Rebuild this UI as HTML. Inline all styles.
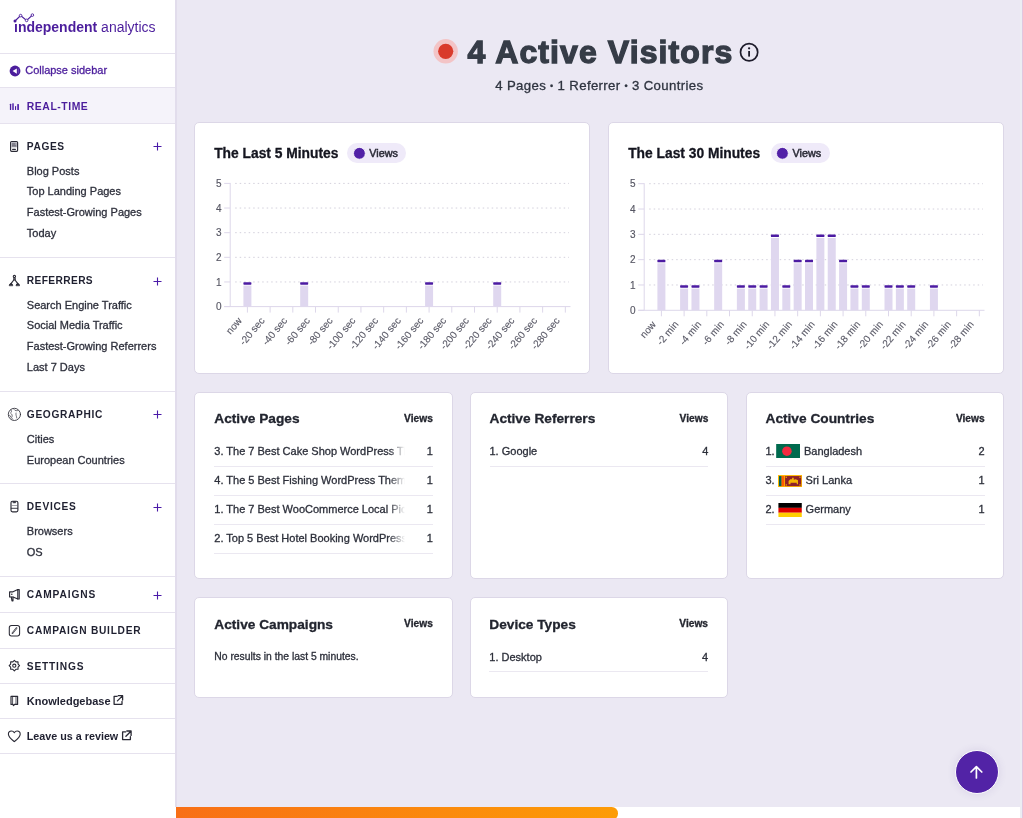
<!DOCTYPE html>
<html><head><meta charset="utf-8"><style>
html,body{margin:0;padding:0;}
body{width:1023px;height:818px;position:relative;overflow:hidden;background:#fff;font-family:"Liberation Sans", sans-serif;}
.t{position:absolute;white-space:nowrap;font-family:"Liberation Sans", sans-serif;}
.m{-webkit-text-stroke:0.3px currentColor;}
.b{-webkit-text-stroke:0.3px currentColor;}
</style></head><body><div id="w" style="position:absolute;left:0;top:0;width:1023px;height:818px;will-change:transform">
<div style="position:absolute;left:0px;top:0px;width:175px;height:818px;background:#fff;"></div>
<div style="position:absolute;left:175px;top:0px;width:2px;height:806.5px;background:#e2ddec;"></div>
<div style="position:absolute;left:0px;top:53px;width:175px;height:1px;background:#e6e2ee;"></div>
<div style="position:absolute;left:0px;top:87px;width:175px;height:1px;background:#e6e2ee;"></div>
<div style="position:absolute;left:0px;top:122.5px;width:175px;height:1px;background:#e6e2ee;"></div>
<div style="position:absolute;left:0px;top:257px;width:175px;height:1px;background:#e6e2ee;"></div>
<div style="position:absolute;left:0px;top:391px;width:175px;height:1px;background:#e6e2ee;"></div>
<div style="position:absolute;left:0px;top:483px;width:175px;height:1px;background:#e6e2ee;"></div>
<div style="position:absolute;left:0px;top:575.5px;width:175px;height:1px;background:#e6e2ee;"></div>
<div style="position:absolute;left:0px;top:612px;width:175px;height:1px;background:#e6e2ee;"></div>
<div style="position:absolute;left:0px;top:647.5px;width:175px;height:1px;background:#e6e2ee;"></div>
<div style="position:absolute;left:0px;top:683px;width:175px;height:1px;background:#e6e2ee;"></div>
<div style="position:absolute;left:0px;top:718px;width:175px;height:1px;background:#e6e2ee;"></div>
<div style="position:absolute;left:0px;top:753px;width:175px;height:1px;background:#e6e2ee;"></div>
<div style="position:absolute;left:0px;top:88px;width:175px;height:34.5px;background:#f5f3fa;"></div>
<div class="t" style="left:14px;top:19.85px;font-size:14px;line-height:14px;color:#4b1d9c;white-space:nowrap"><b>&#305;ndependent</b> analytics</div>
<svg style="position:absolute;left:0;top:0" width="60" height="40"><polyline points="15,21 20.6,15.6 26.6,20.4 32.4,15.1" fill="none" stroke="#4b1d9c" stroke-width="1.15"/>
<circle cx="15" cy="21" r="1.5" fill="#4b1d9c"/><circle cx="20.6" cy="15.6" r="1.3" fill="#fff" stroke="#4b1d9c" stroke-width="0.9"/><circle cx="26.6" cy="20.4" r="1.3" fill="#fff" stroke="#4b1d9c" stroke-width="0.9"/><circle cx="32.4" cy="15.1" r="1.3" fill="#fff" stroke="#4b1d9c" stroke-width="0.9"/></svg>
<svg style="position:absolute;left:9px;top:64.5px" width="12" height="12"><circle cx="6.05" cy="6" r="5.4" fill="#4b1d9c"/><path d="M7.8 3.4 L3.6 6 L7.8 8.7 Z" fill="#fff"/><path d="M9.3 3.6 V8.4" stroke="#7a55c0" stroke-width="0.8"/></svg>
<div class="t m" style="top:64.89px;font-size:11px;line-height:11px;font-weight:400;color:#4b1d9c;left:25.20px;">Collapse sidebar</div>
<svg style="position:absolute;left:9px;top:101px" width="12" height="10"><rect x="0.9" y="2.8" width="1.3" height="6.3" rx="0.5" fill="#4b1d9c"/><rect x="3.2" y="2.2" width="1.6" height="6.9" rx="0.5" fill="#5a2db0"/><rect x="6" y="5" width="1.1" height="4.1" rx="0.5" fill="#4b1d9c"/><rect x="8.2" y="3" width="1.8" height="6.1" rx="0.5" fill="#5a2db0"/></svg>
<div class="t " style="top:101.50px;font-size:10.4px;line-height:10.4px;font-weight:700;color:#4b1d9c;letter-spacing:0.55px;left:26.80px;">REAL-TIME</div>
<div class="t " style="top:141.67px;font-size:10.2px;line-height:10.2px;font-weight:700;color:#1f2030;letter-spacing:0.6px;left:26.80px;">PAGES</div>
<svg style="position:absolute;left:153.3px;top:142.20px" width="9" height="9"><path d="M4.5 0.5 V8.5 M0.5 4.5 H8.5" stroke="#4a1aa8" stroke-width="1.1"/></svg>
<div class="t m" style="top:165.69px;font-size:11px;line-height:11px;font-weight:400;color:#2e303c;left:26.80px;">Blog Posts</div>
<div class="t m" style="top:186.49px;font-size:11px;line-height:11px;font-weight:400;color:#2e303c;left:26.80px;">Top Landing Pages</div>
<div class="t m" style="top:207.29px;font-size:11px;line-height:11px;font-weight:400;color:#2e303c;left:26.80px;">Fastest-Growing Pages</div>
<div class="t m" style="top:228.09px;font-size:11px;line-height:11px;font-weight:400;color:#2e303c;left:26.80px;">Today</div>
<div class="t " style="top:276.37px;font-size:10.2px;line-height:10.2px;font-weight:700;color:#1f2030;letter-spacing:0.38px;left:26.80px;">REFERRERS</div>
<svg style="position:absolute;left:153.3px;top:276.90px" width="9" height="9"><path d="M4.5 0.5 V8.5 M0.5 4.5 H8.5" stroke="#4a1aa8" stroke-width="1.1"/></svg>
<div class="t m" style="top:299.69px;font-size:11px;line-height:11px;font-weight:400;color:#2e303c;left:26.80px;">Search Engine Traffic</div>
<div class="t m" style="top:320.39px;font-size:11px;line-height:11px;font-weight:400;color:#2e303c;left:26.80px;">Social Media Traffic</div>
<div class="t m" style="top:341.19px;font-size:11px;line-height:11px;font-weight:400;color:#2e303c;left:26.80px;">Fastest-Growing Referrers</div>
<div class="t m" style="top:361.99px;font-size:11px;line-height:11px;font-weight:400;color:#2e303c;left:26.80px;">Last 7 Days</div>
<div class="t " style="top:409.57px;font-size:10.2px;line-height:10.2px;font-weight:700;color:#1f2030;letter-spacing:0.66px;left:26.80px;">GEOGRAPHIC</div>
<svg style="position:absolute;left:153.3px;top:410.10px" width="9" height="9"><path d="M4.5 0.5 V8.5 M0.5 4.5 H8.5" stroke="#4a1aa8" stroke-width="1.1"/></svg>
<div class="t m" style="top:433.59px;font-size:11px;line-height:11px;font-weight:400;color:#2e303c;left:26.80px;">Cities</div>
<div class="t m" style="top:454.89px;font-size:11px;line-height:11px;font-weight:400;color:#2e303c;left:26.80px;">European Countries</div>
<div class="t " style="top:502.47px;font-size:10.2px;line-height:10.2px;font-weight:700;color:#1f2030;letter-spacing:0.72px;left:26.80px;">DEVICES</div>
<svg style="position:absolute;left:153.3px;top:503.00px" width="9" height="9"><path d="M4.5 0.5 V8.5 M0.5 4.5 H8.5" stroke="#4a1aa8" stroke-width="1.1"/></svg>
<div class="t m" style="top:525.69px;font-size:11px;line-height:11px;font-weight:400;color:#2e303c;left:26.80px;">Browsers</div>
<div class="t m" style="top:546.89px;font-size:11px;line-height:11px;font-weight:400;color:#2e303c;left:26.80px;">OS</div>
<div class="t " style="top:590.17px;font-size:10.2px;line-height:10.2px;font-weight:700;color:#1f2030;letter-spacing:0.86px;left:26.80px;">CAMPAIGNS</div>
<svg style="position:absolute;left:153.3px;top:590.70px" width="9" height="9"><path d="M4.5 0.5 V8.5 M0.5 4.5 H8.5" stroke="#4a1aa8" stroke-width="1.1"/></svg>
<div class="t " style="top:626.37px;font-size:10.2px;line-height:10.2px;font-weight:700;color:#1f2030;letter-spacing:0.73px;left:26.80px;">CAMPAIGN BUILDER</div>
<div class="t " style="top:661.87px;font-size:10.2px;line-height:10.2px;font-weight:700;color:#1f2030;letter-spacing:0.82px;left:26.80px;">SETTINGS</div>
<div class="t " style="top:695.69px;font-size:11px;line-height:11px;font-weight:700;color:#1f2030;left:26.80px;">Knowledgebase</div>
<div class="t " style="top:731.30px;font-size:10.75px;line-height:10.75px;font-weight:700;color:#1f2030;left:26.80px;">Leave us a review</div>
<svg style="position:absolute;left:0;top:0" width="175" height="760" fill="none" stroke="#2a2a35" stroke-width="1.15" stroke-linecap="round" stroke-linejoin="round">
<!-- pages -->
<rect x="10.6" y="141.5" width="7" height="9.8" rx="1"/>
<rect x="11.4" y="142.3" width="5.4" height="5" fill="#9b9aa6" stroke="none"/>
<path d="M12.4 144 H14.6 M12.4 145.8 H15.8" stroke-width="0.7" stroke="#55545f"/>
<path d="M12.6 149.3 H15.4" stroke-width="1.2"/>
<!-- referrers -->
<circle cx="14.4" cy="276.5" r="1.15" stroke-width="1.1"/><circle cx="14.4" cy="279" r="0.9" stroke-width="1"/>
<path d="M13.8 280 L11.2 283.4 M15 280 L17.6 283.4" stroke-width="1.2"/>
<path d="M9.3 285.3 Q9.6 283.4 11 283.4 Q12.4 283.4 12.7 285.3 Z M16.1 285.3 Q16.4 283.4 17.8 283.4 Q19.2 283.4 19.5 285.3 Z" fill="#2a2a35" stroke-width="0.9"/>
<!-- globe -->
<circle cx="14.4" cy="414.4" r="6.1" stroke-width="1" opacity="0.85"/>
<path d="M11 409.8 C12 411 11.5 412.5 10.5 413 C11.8 414 12.8 415.5 12 417 M14 409.5 C15 411 17 411 18 410.5 M16 413 C15.5 414.5 16.5 416 16.8 418 M9.4 415 C10.5 416.5 11.5 418 12.5 419" stroke-width="0.8" opacity="0.8"/>
<!-- devices -->
<rect x="11" y="501.2" width="6.9" height="10.6" rx="1.5"/>
<path d="M13.3 501.6 H15.6 V502.8 H13.3 Z" fill="#2a2a35" stroke-width="0.6"/>
<path d="M11.3 508.3 H17.6" stroke-width="0.9"/>
<path d="M12.2 505.5 H16.8" stroke-width="0.7" opacity="0.6"/>
<!-- campaigns megaphone -->
<path d="M9.6 591.8 H13 L17.8 589.6 V599 L13 597 H9.6 Z"/>
<path d="M17.8 589.6 H19.2 V599 H17.8" />
<path d="M11.3 597 L12 600.8 H13 L13 597"/>
<circle cx="11.8" cy="594.3" r="0.8" fill="#2a2a35" stroke="none"/>
<!-- campaign builder -->
<rect x="9.3" y="625.4" width="10.3" height="10.5" rx="2.2" stroke-width="1.05"/>
<path d="M12.4 633.2 L16.6 628.1" stroke-width="1.6"/>
<path d="M12.4 633.2 L16.6 628.1" stroke="#fff" stroke-width="0.5"/>
<!-- settings gear -->
<circle cx="14.3" cy="665.7" r="1.6" stroke-width="1.1"/>
<path d="M14.35 660.40 L15.88 661.90 L18.03 661.92 L18.05 664.07 L19.55 665.60 L18.05 667.13 L18.03 669.28 L15.88 669.30 L14.35 670.80 L12.82 669.30 L10.67 669.28 L10.65 667.13 L9.15 665.60 L10.65 664.07 L10.67 661.92 L12.82 661.90 Z" stroke-width="1.1"/>
<!-- knowledgebase book -->
<path d="M11 696.3 H17.6 V704.4 H14.5 L13.6 705.6 L12.8 704.4 H11 Z"/>
<path d="M12.6 696.3 V704.3 M16 697 V704" stroke-width="0.8"/>
<!-- heart -->
<path d="M14.3 741.6 C11 739 8.4 737 8.4 734.2 C8.4 732.3 9.8 731 11.5 731 C12.7 731 13.7 731.7 14.3 732.7 C14.9 731.7 15.9 731 17.1 731 C18.8 731 20.2 732.3 20.2 734.2 C20.2 737 17.6 739 14.3 741.6 Z" stroke-width="1.1"/>
<!-- external links -->
<path d="M117 696.4 H114.1 V704.3 H122 V701.4 M118.2 695.7 H122.6 V700.1 M122.4 695.9 L117.4 700.9" stroke-width="1.3"/>
<path d="M125.6 731.9 H122.6 V739.6 H130.4 V736.7 M126.8 731 H131.1 V735.4 M130.9 731.2 L125.9 736.2" stroke-width="1.3"/>
</svg>
<div style="position:absolute;left:177px;top:0px;width:843px;height:806.5px;background:#ebe8f3;"></div>
<div style="position:absolute;left:1020px;top:0px;width:2px;height:818px;background:#ecedf3;"></div>
<div style="position:absolute;left:1022px;top:0px;width:1px;height:818px;background:#e2c5df;"></div>
<svg style="position:absolute;left:0;top:0" width="1023" height="120"><circle cx="445.7" cy="51.3" r="12.2" fill="#f3c4c6"/><circle cx="445.7" cy="51.3" r="7.6" fill="#d93a2b"/><circle cx="749.1" cy="52.3" r="8.6" fill="none" stroke="#1d1b2a" stroke-width="1.7"/><rect x="748.2" y="51" width="1.8" height="5.6" fill="#1d1b2a"/><circle cx="749.1" cy="48.3" r="1.15" fill="#1d1b2a"/></svg>
<div class="t " style="top:35.61px;font-size:32px;line-height:32px;font-weight:700;color:#363c47;letter-spacing:1.1px;left:467.50px;-webkit-text-stroke:1.3px #363c47;">4 Active Visitors</div>
<div class="t m" style="top:78.93px;font-size:13.2px;line-height:13.2px;font-weight:400;color:#2f3440;letter-spacing:0.35px;left:399.30px;width:400px;text-align:center;">4 Pages <span style="font-size:9px;position:relative;top:-1px">&bull;</span> 1 Referrer <span style="font-size:9px;position:relative;top:-1px">&bull;</span> 3 Countries</div>
<div style="position:absolute;left:193.8px;top:122.4px;width:396.5px;height:251.3px;background:#fff;border:1px solid #dcd7e7;border-radius:5px;box-sizing:border-box;"></div>
<div style="position:absolute;left:607.8px;top:122.4px;width:396.1px;height:251.3px;background:#fff;border:1px solid #dcd7e7;border-radius:5px;box-sizing:border-box;"></div>
<div style="position:absolute;left:193.8px;top:391.9px;width:259.0px;height:187.4px;background:#fff;border:1px solid #dcd7e7;border-radius:5px;box-sizing:border-box;"></div>
<div style="position:absolute;left:469.7px;top:391.9px;width:258.5px;height:187.4px;background:#fff;border:1px solid #dcd7e7;border-radius:5px;box-sizing:border-box;"></div>
<div style="position:absolute;left:745.8px;top:391.9px;width:258.2px;height:187.4px;background:#fff;border:1px solid #dcd7e7;border-radius:5px;box-sizing:border-box;"></div>
<div style="position:absolute;left:193.8px;top:596.6px;width:259.0px;height:101.3px;background:#fff;border:1px solid #dcd7e7;border-radius:5px;box-sizing:border-box;"></div>
<div style="position:absolute;left:469.6px;top:596.6px;width:258.6px;height:101.3px;background:#fff;border:1px solid #dcd7e7;border-radius:5px;box-sizing:border-box;"></div>
<div class="t b" style="top:147.22px;font-size:13.8px;line-height:13.8px;font-weight:700;color:#14151f;left:214.20px;">The Last 5 Minutes</div>
<div style="position:absolute;left:347.3px;top:142.8px;width:59px;height:20.5px;background:#efeaf9;border-radius:10.25px;"></div>
<svg style="position:absolute;left:352.8px;top:146.8px" width="13" height="13"><circle cx="6.4" cy="6.3" r="5.9" fill="#5221a7" stroke="#fff" stroke-width="0.8"/></svg>
<div class="t " style="top:147.96px;font-size:10.8px;line-height:10.8px;font-weight:400;color:#2c2c38;left:369.30px;-webkit-text-stroke:0.5px #2c2c38;">Views</div>
<div class="t b" style="top:147.22px;font-size:13.8px;line-height:13.8px;font-weight:700;color:#14151f;left:628.20px;">The Last 30 Minutes</div>
<div style="position:absolute;left:770.5px;top:142.8px;width:59px;height:20.5px;background:#efeaf9;border-radius:10.25px;"></div>
<svg style="position:absolute;left:776.0px;top:146.8px" width="13" height="13"><circle cx="6.4" cy="6.3" r="5.9" fill="#5221a7" stroke="#fff" stroke-width="0.8"/></svg>
<div class="t " style="top:147.96px;font-size:10.8px;line-height:10.8px;font-weight:400;color:#2c2c38;left:792.50px;-webkit-text-stroke:0.5px #2c2c38;">Views</div>
<svg style="position:absolute;left:0;top:0;overflow:visible" width="1023" height="400" font-family="Liberation Sans, sans-serif"><line x1="224.2" y1="183.40" x2="230.2" y2="183.40" stroke="#ddd7ea" stroke-width="1"/><text x="221.60" y="187.10" text-anchor="end" font-size="10" fill="#565663" stroke="#565663" stroke-width="0.15">5</text><line x1="235.2" y1="183.40" x2="569.0" y2="183.40" stroke="#d3d0dc" stroke-width="1" stroke-dasharray="1.5 3"/><line x1="224.2" y1="208.04" x2="230.2" y2="208.04" stroke="#ddd7ea" stroke-width="1"/><text x="221.60" y="211.74" text-anchor="end" font-size="10" fill="#565663" stroke="#565663" stroke-width="0.15">4</text><line x1="235.2" y1="208.04" x2="569.0" y2="208.04" stroke="#d3d0dc" stroke-width="1" stroke-dasharray="1.5 3"/><line x1="224.2" y1="232.68" x2="230.2" y2="232.68" stroke="#ddd7ea" stroke-width="1"/><text x="221.60" y="236.38" text-anchor="end" font-size="10" fill="#565663" stroke="#565663" stroke-width="0.15">3</text><line x1="235.2" y1="232.68" x2="569.0" y2="232.68" stroke="#d3d0dc" stroke-width="1" stroke-dasharray="1.5 3"/><line x1="224.2" y1="257.32" x2="230.2" y2="257.32" stroke="#ddd7ea" stroke-width="1"/><text x="221.60" y="261.02" text-anchor="end" font-size="10" fill="#565663" stroke="#565663" stroke-width="0.15">2</text><line x1="235.2" y1="257.32" x2="569.0" y2="257.32" stroke="#d3d0dc" stroke-width="1" stroke-dasharray="1.5 3"/><line x1="224.2" y1="281.96" x2="230.2" y2="281.96" stroke="#ddd7ea" stroke-width="1"/><text x="221.60" y="285.66" text-anchor="end" font-size="10" fill="#565663" stroke="#565663" stroke-width="0.15">1</text><line x1="235.2" y1="281.96" x2="569.0" y2="281.96" stroke="#d3d0dc" stroke-width="1" stroke-dasharray="1.5 3"/><line x1="224.2" y1="306.60" x2="230.2" y2="306.60" stroke="#ddd7ea" stroke-width="1"/><text x="221.60" y="310.30" text-anchor="end" font-size="10" fill="#565663" stroke="#565663" stroke-width="0.15">0</text><line x1="230.2" y1="182.90" x2="230.2" y2="306.60" stroke="#ddd7ea" stroke-width="1"/><line x1="224.2" y1="306.60" x2="570.5" y2="306.60" stroke="#ddd7ea" stroke-width="1"/><line x1="247.40" y1="306.6" x2="247.40" y2="312.6" stroke="#ddd7ea" stroke-width="1"/><text transform="translate(242.40,320.90) rotate(-50)" text-anchor="end" font-size="10" fill="#5a5a67" stroke="#5a5a67" stroke-width="0.12">now</text><line x1="270.11" y1="306.6" x2="270.11" y2="312.6" stroke="#ddd7ea" stroke-width="1"/><text transform="translate(265.11,320.90) rotate(-50)" text-anchor="end" font-size="10" fill="#5a5a67" stroke="#5a5a67" stroke-width="0.12">-20 sec</text><line x1="292.82" y1="306.6" x2="292.82" y2="312.6" stroke="#ddd7ea" stroke-width="1"/><text transform="translate(287.82,320.90) rotate(-50)" text-anchor="end" font-size="10" fill="#5a5a67" stroke="#5a5a67" stroke-width="0.12">-40 sec</text><line x1="315.53" y1="306.6" x2="315.53" y2="312.6" stroke="#ddd7ea" stroke-width="1"/><text transform="translate(310.53,320.90) rotate(-50)" text-anchor="end" font-size="10" fill="#5a5a67" stroke="#5a5a67" stroke-width="0.12">-60 sec</text><line x1="338.24" y1="306.6" x2="338.24" y2="312.6" stroke="#ddd7ea" stroke-width="1"/><text transform="translate(333.24,320.90) rotate(-50)" text-anchor="end" font-size="10" fill="#5a5a67" stroke="#5a5a67" stroke-width="0.12">-80 sec</text><line x1="360.95" y1="306.6" x2="360.95" y2="312.6" stroke="#ddd7ea" stroke-width="1"/><text transform="translate(355.95,320.90) rotate(-50)" text-anchor="end" font-size="10" fill="#5a5a67" stroke="#5a5a67" stroke-width="0.12">-100 sec</text><line x1="383.66" y1="306.6" x2="383.66" y2="312.6" stroke="#ddd7ea" stroke-width="1"/><text transform="translate(378.66,320.90) rotate(-50)" text-anchor="end" font-size="10" fill="#5a5a67" stroke="#5a5a67" stroke-width="0.12">-120 sec</text><line x1="406.37" y1="306.6" x2="406.37" y2="312.6" stroke="#ddd7ea" stroke-width="1"/><text transform="translate(401.37,320.90) rotate(-50)" text-anchor="end" font-size="10" fill="#5a5a67" stroke="#5a5a67" stroke-width="0.12">-140 sec</text><line x1="429.08" y1="306.6" x2="429.08" y2="312.6" stroke="#ddd7ea" stroke-width="1"/><text transform="translate(424.08,320.90) rotate(-50)" text-anchor="end" font-size="10" fill="#5a5a67" stroke="#5a5a67" stroke-width="0.12">-160 sec</text><line x1="451.79" y1="306.6" x2="451.79" y2="312.6" stroke="#ddd7ea" stroke-width="1"/><text transform="translate(446.79,320.90) rotate(-50)" text-anchor="end" font-size="10" fill="#5a5a67" stroke="#5a5a67" stroke-width="0.12">-180 sec</text><line x1="474.50" y1="306.6" x2="474.50" y2="312.6" stroke="#ddd7ea" stroke-width="1"/><text transform="translate(469.50,320.90) rotate(-50)" text-anchor="end" font-size="10" fill="#5a5a67" stroke="#5a5a67" stroke-width="0.12">-200 sec</text><line x1="497.21" y1="306.6" x2="497.21" y2="312.6" stroke="#ddd7ea" stroke-width="1"/><text transform="translate(492.21,320.90) rotate(-50)" text-anchor="end" font-size="10" fill="#5a5a67" stroke="#5a5a67" stroke-width="0.12">-220 sec</text><line x1="519.92" y1="306.6" x2="519.92" y2="312.6" stroke="#ddd7ea" stroke-width="1"/><text transform="translate(514.92,320.90) rotate(-50)" text-anchor="end" font-size="10" fill="#5a5a67" stroke="#5a5a67" stroke-width="0.12">-240 sec</text><line x1="542.63" y1="306.6" x2="542.63" y2="312.6" stroke="#ddd7ea" stroke-width="1"/><text transform="translate(537.63,320.90) rotate(-50)" text-anchor="end" font-size="10" fill="#5a5a67" stroke="#5a5a67" stroke-width="0.12">-260 sec</text><line x1="565.34" y1="306.6" x2="565.34" y2="312.6" stroke="#ddd7ea" stroke-width="1"/><text transform="translate(560.34,320.90) rotate(-50)" text-anchor="end" font-size="10" fill="#5a5a67" stroke="#5a5a67" stroke-width="0.12">-280 sec</text><rect x="243.40" y="285.56" width="8" height="21.04" fill="#dfd7ef"/><rect x="243.40" y="282.16" width="8" height="2.5" rx="0.6" fill="#4c1ba2"/><rect x="300.18" y="285.56" width="8" height="21.04" fill="#dfd7ef"/><rect x="300.18" y="282.16" width="8" height="2.5" rx="0.6" fill="#4c1ba2"/><rect x="425.08" y="285.56" width="8" height="21.04" fill="#dfd7ef"/><rect x="425.08" y="282.16" width="8" height="2.5" rx="0.6" fill="#4c1ba2"/><rect x="493.21" y="285.56" width="8" height="21.04" fill="#dfd7ef"/><rect x="493.21" y="282.16" width="8" height="2.5" rx="0.6" fill="#4c1ba2"/></svg>
<svg style="position:absolute;left:0;top:0;overflow:visible" width="1023" height="400" font-family="Liberation Sans, sans-serif"><line x1="638.2" y1="183.70" x2="644.2" y2="183.70" stroke="#ddd7ea" stroke-width="1"/><text x="635.60" y="187.40" text-anchor="end" font-size="10" fill="#565663" stroke="#565663" stroke-width="0.15">5</text><line x1="649.2" y1="183.70" x2="983.0" y2="183.70" stroke="#d3d0dc" stroke-width="1" stroke-dasharray="1.5 3"/><line x1="638.2" y1="209.02" x2="644.2" y2="209.02" stroke="#ddd7ea" stroke-width="1"/><text x="635.60" y="212.72" text-anchor="end" font-size="10" fill="#565663" stroke="#565663" stroke-width="0.15">4</text><line x1="649.2" y1="209.02" x2="983.0" y2="209.02" stroke="#d3d0dc" stroke-width="1" stroke-dasharray="1.5 3"/><line x1="638.2" y1="234.34" x2="644.2" y2="234.34" stroke="#ddd7ea" stroke-width="1"/><text x="635.60" y="238.04" text-anchor="end" font-size="10" fill="#565663" stroke="#565663" stroke-width="0.15">3</text><line x1="649.2" y1="234.34" x2="983.0" y2="234.34" stroke="#d3d0dc" stroke-width="1" stroke-dasharray="1.5 3"/><line x1="638.2" y1="259.66" x2="644.2" y2="259.66" stroke="#ddd7ea" stroke-width="1"/><text x="635.60" y="263.36" text-anchor="end" font-size="10" fill="#565663" stroke="#565663" stroke-width="0.15">2</text><line x1="649.2" y1="259.66" x2="983.0" y2="259.66" stroke="#d3d0dc" stroke-width="1" stroke-dasharray="1.5 3"/><line x1="638.2" y1="284.98" x2="644.2" y2="284.98" stroke="#ddd7ea" stroke-width="1"/><text x="635.60" y="288.68" text-anchor="end" font-size="10" fill="#565663" stroke="#565663" stroke-width="0.15">1</text><line x1="649.2" y1="284.98" x2="983.0" y2="284.98" stroke="#d3d0dc" stroke-width="1" stroke-dasharray="1.5 3"/><line x1="638.2" y1="310.30" x2="644.2" y2="310.30" stroke="#ddd7ea" stroke-width="1"/><text x="635.60" y="314.00" text-anchor="end" font-size="10" fill="#565663" stroke="#565663" stroke-width="0.15">0</text><line x1="644.2" y1="183.20" x2="644.2" y2="310.30" stroke="#ddd7ea" stroke-width="1"/><line x1="638.2" y1="310.30" x2="984.5" y2="310.30" stroke="#ddd7ea" stroke-width="1"/><line x1="661.40" y1="310.3" x2="661.40" y2="316.3" stroke="#ddd7ea" stroke-width="1"/><text transform="translate(656.40,324.60) rotate(-50)" text-anchor="end" font-size="10" fill="#5a5a67" stroke="#5a5a67" stroke-width="0.12">now</text><line x1="684.11" y1="310.3" x2="684.11" y2="316.3" stroke="#ddd7ea" stroke-width="1"/><text transform="translate(679.11,324.60) rotate(-50)" text-anchor="end" font-size="10" fill="#5a5a67" stroke="#5a5a67" stroke-width="0.12">-2 min</text><line x1="706.82" y1="310.3" x2="706.82" y2="316.3" stroke="#ddd7ea" stroke-width="1"/><text transform="translate(701.82,324.60) rotate(-50)" text-anchor="end" font-size="10" fill="#5a5a67" stroke="#5a5a67" stroke-width="0.12">-4 min</text><line x1="729.53" y1="310.3" x2="729.53" y2="316.3" stroke="#ddd7ea" stroke-width="1"/><text transform="translate(724.53,324.60) rotate(-50)" text-anchor="end" font-size="10" fill="#5a5a67" stroke="#5a5a67" stroke-width="0.12">-6 min</text><line x1="752.24" y1="310.3" x2="752.24" y2="316.3" stroke="#ddd7ea" stroke-width="1"/><text transform="translate(747.24,324.60) rotate(-50)" text-anchor="end" font-size="10" fill="#5a5a67" stroke="#5a5a67" stroke-width="0.12">-8 min</text><line x1="774.95" y1="310.3" x2="774.95" y2="316.3" stroke="#ddd7ea" stroke-width="1"/><text transform="translate(769.95,324.60) rotate(-50)" text-anchor="end" font-size="10" fill="#5a5a67" stroke="#5a5a67" stroke-width="0.12">-10 min</text><line x1="797.66" y1="310.3" x2="797.66" y2="316.3" stroke="#ddd7ea" stroke-width="1"/><text transform="translate(792.66,324.60) rotate(-50)" text-anchor="end" font-size="10" fill="#5a5a67" stroke="#5a5a67" stroke-width="0.12">-12 min</text><line x1="820.37" y1="310.3" x2="820.37" y2="316.3" stroke="#ddd7ea" stroke-width="1"/><text transform="translate(815.37,324.60) rotate(-50)" text-anchor="end" font-size="10" fill="#5a5a67" stroke="#5a5a67" stroke-width="0.12">-14 min</text><line x1="843.08" y1="310.3" x2="843.08" y2="316.3" stroke="#ddd7ea" stroke-width="1"/><text transform="translate(838.08,324.60) rotate(-50)" text-anchor="end" font-size="10" fill="#5a5a67" stroke="#5a5a67" stroke-width="0.12">-16 min</text><line x1="865.79" y1="310.3" x2="865.79" y2="316.3" stroke="#ddd7ea" stroke-width="1"/><text transform="translate(860.79,324.60) rotate(-50)" text-anchor="end" font-size="10" fill="#5a5a67" stroke="#5a5a67" stroke-width="0.12">-18 min</text><line x1="888.50" y1="310.3" x2="888.50" y2="316.3" stroke="#ddd7ea" stroke-width="1"/><text transform="translate(883.50,324.60) rotate(-50)" text-anchor="end" font-size="10" fill="#5a5a67" stroke="#5a5a67" stroke-width="0.12">-20 min</text><line x1="911.21" y1="310.3" x2="911.21" y2="316.3" stroke="#ddd7ea" stroke-width="1"/><text transform="translate(906.21,324.60) rotate(-50)" text-anchor="end" font-size="10" fill="#5a5a67" stroke="#5a5a67" stroke-width="0.12">-22 min</text><line x1="933.92" y1="310.3" x2="933.92" y2="316.3" stroke="#ddd7ea" stroke-width="1"/><text transform="translate(928.92,324.60) rotate(-50)" text-anchor="end" font-size="10" fill="#5a5a67" stroke="#5a5a67" stroke-width="0.12">-24 min</text><line x1="956.63" y1="310.3" x2="956.63" y2="316.3" stroke="#ddd7ea" stroke-width="1"/><text transform="translate(951.63,324.60) rotate(-50)" text-anchor="end" font-size="10" fill="#5a5a67" stroke="#5a5a67" stroke-width="0.12">-26 min</text><line x1="979.34" y1="310.3" x2="979.34" y2="316.3" stroke="#ddd7ea" stroke-width="1"/><text transform="translate(974.34,324.60) rotate(-50)" text-anchor="end" font-size="10" fill="#5a5a67" stroke="#5a5a67" stroke-width="0.12">-28 min</text><rect x="657.40" y="263.26" width="8" height="47.04" fill="#dfd7ef"/><rect x="657.40" y="259.86" width="8" height="2.5" rx="0.6" fill="#4c1ba2"/><rect x="680.11" y="288.58" width="8" height="21.72" fill="#dfd7ef"/><rect x="680.11" y="285.18" width="8" height="2.5" rx="0.6" fill="#4c1ba2"/><rect x="691.46" y="288.58" width="8" height="21.72" fill="#dfd7ef"/><rect x="691.46" y="285.18" width="8" height="2.5" rx="0.6" fill="#4c1ba2"/><rect x="714.17" y="263.26" width="8" height="47.04" fill="#dfd7ef"/><rect x="714.17" y="259.86" width="8" height="2.5" rx="0.6" fill="#4c1ba2"/><rect x="736.88" y="288.58" width="8" height="21.72" fill="#dfd7ef"/><rect x="736.88" y="285.18" width="8" height="2.5" rx="0.6" fill="#4c1ba2"/><rect x="748.24" y="288.58" width="8" height="21.72" fill="#dfd7ef"/><rect x="748.24" y="285.18" width="8" height="2.5" rx="0.6" fill="#4c1ba2"/><rect x="759.60" y="288.58" width="8" height="21.72" fill="#dfd7ef"/><rect x="759.60" y="285.18" width="8" height="2.5" rx="0.6" fill="#4c1ba2"/><rect x="770.95" y="237.94" width="8" height="72.36" fill="#dfd7ef"/><rect x="770.95" y="234.54" width="8" height="2.5" rx="0.6" fill="#4c1ba2"/><rect x="782.30" y="288.58" width="8" height="21.72" fill="#dfd7ef"/><rect x="782.30" y="285.18" width="8" height="2.5" rx="0.6" fill="#4c1ba2"/><rect x="793.66" y="263.26" width="8" height="47.04" fill="#dfd7ef"/><rect x="793.66" y="259.86" width="8" height="2.5" rx="0.6" fill="#4c1ba2"/><rect x="805.01" y="263.26" width="8" height="47.04" fill="#dfd7ef"/><rect x="805.01" y="259.86" width="8" height="2.5" rx="0.6" fill="#4c1ba2"/><rect x="816.37" y="237.94" width="8" height="72.36" fill="#dfd7ef"/><rect x="816.37" y="234.54" width="8" height="2.5" rx="0.6" fill="#4c1ba2"/><rect x="827.73" y="237.94" width="8" height="72.36" fill="#dfd7ef"/><rect x="827.73" y="234.54" width="8" height="2.5" rx="0.6" fill="#4c1ba2"/><rect x="839.08" y="263.26" width="8" height="47.04" fill="#dfd7ef"/><rect x="839.08" y="259.86" width="8" height="2.5" rx="0.6" fill="#4c1ba2"/><rect x="850.43" y="288.58" width="8" height="21.72" fill="#dfd7ef"/><rect x="850.43" y="285.18" width="8" height="2.5" rx="0.6" fill="#4c1ba2"/><rect x="861.79" y="288.58" width="8" height="21.72" fill="#dfd7ef"/><rect x="861.79" y="285.18" width="8" height="2.5" rx="0.6" fill="#4c1ba2"/><rect x="884.50" y="288.58" width="8" height="21.72" fill="#dfd7ef"/><rect x="884.50" y="285.18" width="8" height="2.5" rx="0.6" fill="#4c1ba2"/><rect x="895.86" y="288.58" width="8" height="21.72" fill="#dfd7ef"/><rect x="895.86" y="285.18" width="8" height="2.5" rx="0.6" fill="#4c1ba2"/><rect x="907.21" y="288.58" width="8" height="21.72" fill="#dfd7ef"/><rect x="907.21" y="285.18" width="8" height="2.5" rx="0.6" fill="#4c1ba2"/><rect x="929.92" y="288.58" width="8" height="21.72" fill="#dfd7ef"/><rect x="929.92" y="285.18" width="8" height="2.5" rx="0.6" fill="#4c1ba2"/></svg>
<div class="t b" style="top:411.70px;font-size:13.7px;line-height:13.7px;font-weight:700;color:#22252f;left:214.30px;">Active Pages</div>
<div class="t b" style="top:413.87px;font-size:10.2px;line-height:10.2px;font-weight:700;color:#24262f;right:590.20px;text-align:right;">Views</div>
<div class="t m" style="left:214.3px;top:446.29px;font-size:11px;line-height:11px;color:#2c2f3a;width:190.7px;overflow:hidden;-webkit-mask-image:linear-gradient(to right,#000 calc(100% - 16px),transparent);mask-image:linear-gradient(to right,#000 calc(100% - 16px),transparent 100%)">3. The 7 Best Cake Shop WordPress Themes</div>
<div class="t m" style="top:446.29px;font-size:11px;line-height:11px;font-weight:400;color:#2c2f3a;right:590.20px;text-align:right;">1</div>
<div style="position:absolute;left:214.3px;top:465.90000000000003px;width:218.5px;height:1px;background:#ebe8f1;"></div>
<div class="t m" style="left:214.3px;top:475.34px;font-size:11px;line-height:11px;color:#2c2f3a;width:190.7px;overflow:hidden;-webkit-mask-image:linear-gradient(to right,#000 calc(100% - 16px),transparent);mask-image:linear-gradient(to right,#000 calc(100% - 16px),transparent 100%)">4. The 5 Best Fishing WordPress Themes</div>
<div class="t m" style="top:475.34px;font-size:11px;line-height:11px;font-weight:400;color:#2c2f3a;right:590.20px;text-align:right;">1</div>
<div style="position:absolute;left:214.3px;top:494.95000000000005px;width:218.5px;height:1px;background:#ebe8f1;"></div>
<div class="t m" style="left:214.3px;top:504.39px;font-size:11px;line-height:11px;color:#2c2f3a;width:190.7px;overflow:hidden;-webkit-mask-image:linear-gradient(to right,#000 calc(100% - 16px),transparent);mask-image:linear-gradient(to right,#000 calc(100% - 16px),transparent 100%)">1. The 7 Best WooCommerce Local Pickup Plugins</div>
<div class="t m" style="top:504.39px;font-size:11px;line-height:11px;font-weight:400;color:#2c2f3a;right:590.20px;text-align:right;">1</div>
<div style="position:absolute;left:214.3px;top:524.0px;width:218.5px;height:1px;background:#ebe8f1;"></div>
<div class="t m" style="left:214.3px;top:533.44px;font-size:11px;line-height:11px;color:#2c2f3a;width:190.7px;overflow:hidden;-webkit-mask-image:linear-gradient(to right,#000 calc(100% - 16px),transparent);mask-image:linear-gradient(to right,#000 calc(100% - 16px),transparent 100%)">2. Top 5 Best Hotel Booking WordPress Plugins</div>
<div class="t m" style="top:533.44px;font-size:11px;line-height:11px;font-weight:400;color:#2c2f3a;right:590.20px;text-align:right;">1</div>
<div style="position:absolute;left:214.3px;top:553.05px;width:218.5px;height:1px;background:#ebe8f1;"></div>
<div class="t b" style="top:411.70px;font-size:13.7px;line-height:13.7px;font-weight:700;color:#22252f;left:489.50px;">Active Referrers</div>
<div class="t b" style="top:413.87px;font-size:10.2px;line-height:10.2px;font-weight:700;color:#24262f;right:314.70px;text-align:right;">Views</div>
<div class="t m" style="top:446.29px;font-size:11px;line-height:11px;font-weight:400;color:#2c2f3a;left:489.50px;">1. Google</div>
<div class="t m" style="top:446.29px;font-size:11px;line-height:11px;font-weight:400;color:#2c2f3a;right:314.70px;text-align:right;">4</div>
<div style="position:absolute;left:489.5px;top:465.90000000000003px;width:218.79999999999995px;height:1px;background:#ebe8f1;"></div>
<div class="t b" style="top:411.70px;font-size:13.7px;line-height:13.7px;font-weight:700;color:#22252f;left:765.50px;">Active Countries</div>
<div class="t b" style="top:413.87px;font-size:10.2px;line-height:10.2px;font-weight:700;color:#24262f;right:38.40px;text-align:right;">Views</div>
<div class="t m" style="top:446.29px;font-size:11px;line-height:11px;font-weight:400;color:#2c2f3a;left:765.50px;">1.</div>
<div class="t m" style="top:446.29px;font-size:11px;line-height:11px;font-weight:400;color:#2c2f3a;right:38.40px;text-align:right;">2</div>
<div style="position:absolute;left:765.5px;top:465.90000000000003px;width:219.10000000000002px;height:1px;background:#ebe8f1;"></div>
<div class="t m" style="top:475.34px;font-size:11px;line-height:11px;font-weight:400;color:#2c2f3a;left:765.50px;">3.</div>
<div class="t m" style="top:475.34px;font-size:11px;line-height:11px;font-weight:400;color:#2c2f3a;right:38.40px;text-align:right;">1</div>
<div style="position:absolute;left:765.5px;top:494.95000000000005px;width:219.10000000000002px;height:1px;background:#ebe8f1;"></div>
<div class="t m" style="top:504.39px;font-size:11px;line-height:11px;font-weight:400;color:#2c2f3a;left:765.50px;">2.</div>
<div class="t m" style="top:504.39px;font-size:11px;line-height:11px;font-weight:400;color:#2c2f3a;right:38.40px;text-align:right;">1</div>
<div style="position:absolute;left:765.5px;top:524.0px;width:219.10000000000002px;height:1px;background:#ebe8f1;"></div>
<div class="t m" style="top:446.19px;font-size:11px;line-height:11px;font-weight:400;color:#2c2f3a;left:804.00px;">Bangladesh</div>
<div class="t m" style="top:475.19px;font-size:11px;line-height:11px;font-weight:400;color:#2c2f3a;left:805.60px;">Sri Lanka</div>
<div class="t m" style="top:504.19px;font-size:11px;line-height:11px;font-weight:400;color:#2c2f3a;left:805.60px;">Germany</div>
<svg style="position:absolute;left:776.3px;top:444.1px" width="24.2" height="14.3" viewBox="0 0 20 12"><rect width="20" height="12" fill="#006a4e"/><circle cx="9" cy="6" r="4" fill="#f42a41"/></svg>
<svg style="position:absolute;left:777.6px;top:474.5px" width="24.2" height="12.2" viewBox="0 0 24 12"><rect width="24" height="12" fill="#ffb700"/><rect x="1" y="1" width="2.6" height="10" fill="#005f56"/><rect x="3.6" y="1" width="2.6" height="10" fill="#ff5b00"/><rect x="7" y="1" width="16" height="10" fill="#8d2029"/><path d="M10.5 9.2 V6 L12.2 4.2 H14 V2.8 H15.6 V4.6 L17.6 4.2 L19.8 5.2 V9.2 H18.6 V7.6 H12.4 V9.2 Z" fill="#f7b500"/><rect x="7.6" y="1.6" width="1.2" height="1.2" fill="#f7b500"/><rect x="21.2" y="1.6" width="1.2" height="1.2" fill="#f7b500"/><rect x="7.6" y="9.2" width="1.2" height="1.2" fill="#f7b500"/><rect x="21.2" y="9.2" width="1.2" height="1.2" fill="#f7b500"/></svg>
<svg style="position:absolute;left:777.6px;top:502.6px" width="24.2" height="14.6" viewBox="0 0 24 15"><rect width="24" height="5" fill="#000"/><rect y="5" width="24" height="5" fill="#dd0000"/><rect y="10" width="24" height="5" fill="#ffce00"/></svg>
<div class="t b" style="top:617.50px;font-size:13.7px;line-height:13.7px;font-weight:700;color:#22252f;left:214.30px;">Active Campaigns</div>
<div class="t b" style="top:619.07px;font-size:10.2px;line-height:10.2px;font-weight:700;color:#24262f;right:590.20px;text-align:right;">Views</div>
<div class="t m" style="top:651.94px;font-size:10.35px;line-height:10.35px;font-weight:400;color:#2c2f3a;left:214.30px;">No results in the last 5 minutes.</div>
<div class="t b" style="top:617.50px;font-size:13.7px;line-height:13.7px;font-weight:700;color:#22252f;left:489.30px;">Device Types</div>
<div class="t b" style="top:619.07px;font-size:10.2px;line-height:10.2px;font-weight:700;color:#24262f;right:315.00px;text-align:right;">Views</div>
<div class="t m" style="top:651.69px;font-size:11px;line-height:11px;font-weight:400;color:#2c2f3a;left:489.30px;">1. Desktop</div>
<div class="t m" style="top:651.69px;font-size:11px;line-height:11px;font-weight:400;color:#2c2f3a;right:315.00px;text-align:right;">4</div>
<div style="position:absolute;left:489.3px;top:671.3px;width:218.7px;height:1px;background:#ebe8f1;"></div>
<div style="position:absolute;left:954.5px;top:750px;width:44px;height:44px;border-radius:50%;background:#5223a6;border:1.5px solid #fff;box-sizing:border-box;box-shadow:0 0 8px rgba(80,60,140,0.12)"></div>
<svg style="position:absolute;left:966px;top:762px" width="20" height="20"><path d="M10.4 16 V4.8 M5 10 L10.4 4.6 L15.8 10" fill="none" stroke="#fff" stroke-width="1.7" stroke-linecap="round" stroke-linejoin="round"/></svg>
<div style="position:absolute;left:176px;top:807px;width:442.3px;height:12.5px;border-radius:0 6.25px 6.25px 0;background:linear-gradient(to right,#f86f16,#fd9c06)"></div>
</div></body></html>
